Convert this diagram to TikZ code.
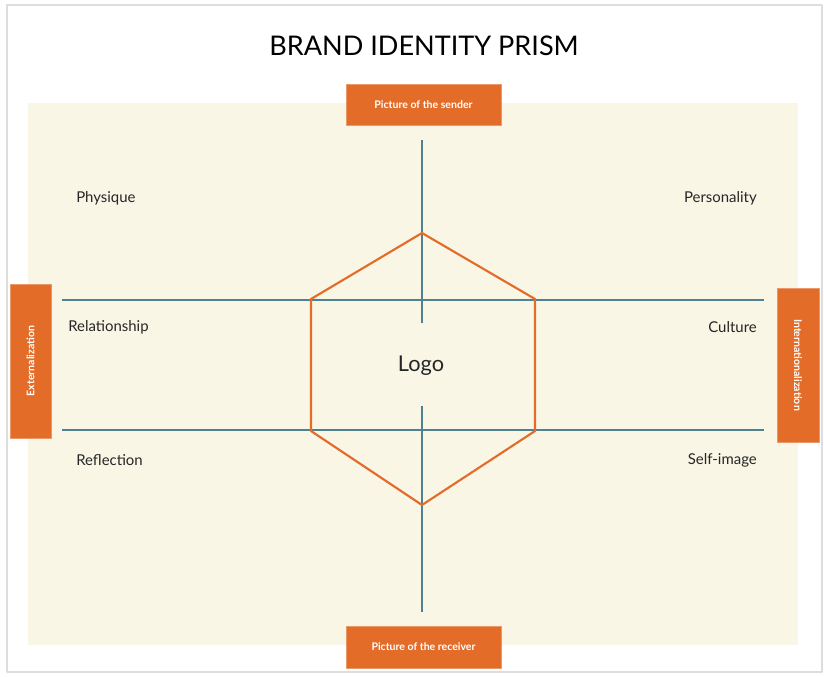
\documentclass[tikz,border=0pt]{standalone}
\usepackage{fontspec}
\setmainfont{Lato}
\definecolor{prismorange}{HTML}{E36C29}
\definecolor{prismteal}{HTML}{4F8190}
\definecolor{prismcream}{HTML}{F9F6E6}
\definecolor{frameg}{HTML}{DDDDDD}
\tikzset{
	sidebox/.style={fill=prismorange, draw=prismorange!70!white, line width=0.6pt, text=white, font=\fontsize{7.9}{9}\selectfont\bfseries, inner sep=0pt, align=center},
	axisline/.style={draw=prismteal, line width=1pt},
	facet/.style={font=\fontsize{11.2}{13}\selectfont, text=black!85, inner sep=0pt},
}
\begin{document}
\begin{tikzpicture}[x=0.75pt, y=-0.75pt, line join=round]
				\useasboundingbox (0,0) rectangle (824,676);
				\draw[frameg, line width=0.8pt] (7,5) rectangle (822,672);
				\fill[prismcream] (28,103) rectangle (798,645);
				\node[font=\fontsize{20.3}{24}\selectfont] (title) at (424,46) {BRAND IDENTITY PRISM};
				% the four boxes
				\node[sidebox, minimum width=116.25pt, minimum height=30.75pt] (sender) at (423.5,104.5) {Picture of the sender};
				\node[sidebox, minimum width=116.25pt, minimum height=31.5pt] (receiver) at (423.5,647) {Picture of the receiver};
				\node[sidebox, minimum width=115.5pt, minimum height=30.75pt, rotate=90] (extern) at (30.5,361) {Externalization};
				\node[sidebox, minimum width=115.5pt, minimum height=31.5pt, rotate=-90] (intern) at (798,365) {Internationalization};
				% axes
				\coordinate (vt1) at (422,140);\coordinate (vt2) at (422,323);
				\coordinate (vb1) at (422,406);\coordinate (vb2) at (422,612);
				\coordinate (ht1) at (62,300);\coordinate (ht2) at (764,300);
				\coordinate (hb1) at (62,430);\coordinate (hb2) at (764,430);
				\draw[axisline] (vt1)--(vt2);
				\draw[axisline] (vb1)--(vb2);
				\draw[axisline] (ht1)--(ht2);
				\draw[axisline] (hb1)--(hb2);
				% hexagon
				\coordinate (h1) at (422,233);\coordinate (h2) at (535,299);
				\coordinate (h3) at (535,431);\coordinate (h4) at (422,505);
				\coordinate (h5) at (311,431);\coordinate (h6) at (311,299);
				\draw[prismorange, line width=1.6pt] (h1)--(h2)--(h3)--(h4)--(h5)--(h6)--cycle;
				\node[font=\fontsize{16.3}{19}\selectfont, text=black!85] (logo) at (421,366) {Logo};
				% facets
				\node[facet, anchor=west] (physique) at (76,198) {Physique};
				\node[facet, anchor=east] (personality) at (757,198) {Personality};
				\node[facet, anchor=west] (relationship) at (68,327) {Relationship};
				\node[facet, anchor=east] (culture) at (757,327) {Culture};
				\node[facet, anchor=west] (reflection) at (76,460) {Reflection};
				\node[facet, anchor=east] (selfimage) at (757,460) {Self-image};
			\end{tikzpicture}
\end{document}
